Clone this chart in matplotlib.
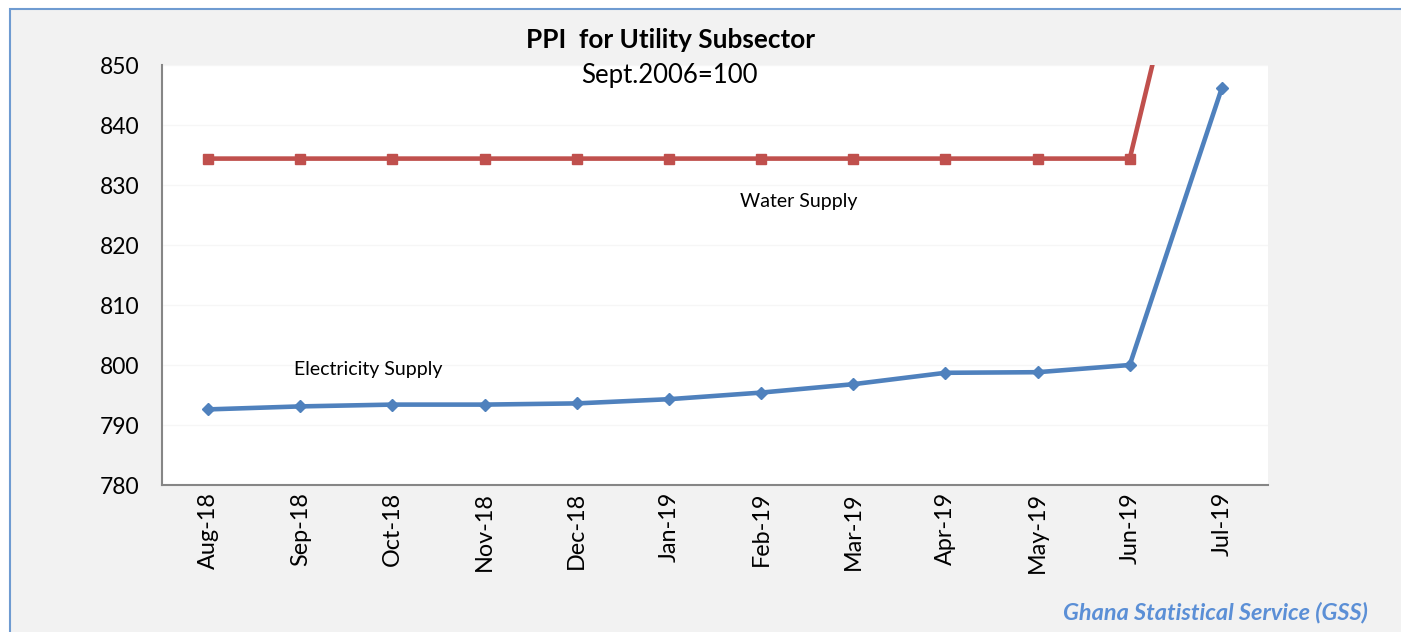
import matplotlib.pyplot as plt
from matplotlib.patches import Rectangle

# 폰트 설정
plt.rcParams["font.family"] = ["Lato", "DejaVu Sans"]

# 데이터
months = ["Aug-18", "Sep-18", "Oct-18", "Nov-18", "Dec-18", "Jan-19",
          "Feb-19", "Mar-19", "Apr-19", "May-19", "Jun-19", "Jul-19"]
electricity = [792.6, 793.1, 793.4, 793.4, 793.6, 794.3,
               795.4, 796.8, 798.7, 798.8, 800.0, 846.2]
water = [834.4, 834.4, 834.4, 834.4, 834.4, 834.4,
         834.4, 834.4, 834.4, 834.4, 834.4, 898.0]
y_ticks = [780, 790, 800, 810, 820, 830, 840, 850]

W, H = 1401, 632
fig = plt.figure(figsize=(W / 100, H / 100), dpi=100)
fig.patch.set_facecolor("white")

# 차트 바깥 회색 영역과 파란 테두리
fig.patches.append(Rectangle((10 / W, -0.01), 1.0, 1 - 9 / H + 0.01,
                             transform=fig.transFigure, facecolor="#f2f2f2",
                             edgecolor="#6f9bd1", linewidth=1.5, zorder=-5))

ax = fig.add_axes([162 / W, (H - 485) / H, (1268 - 162) / W, (485 - 65) / H])
ax.set_facecolor("white")

x = range(len(months))
ax.plot(x, water, color="#c0504d", linewidth=3.3, marker="s", markersize=7,
        solid_capstyle="round")
ax.plot(x, electricity, color="#4f81bd", linewidth=3.3, marker="D", markersize=6,
        solid_capstyle="round")

ax.set_xlim(-0.5, len(months) - 0.5)
ax.set_ylim(780, 850)
ax.set_yticks(y_ticks)
ax.set_xticks(list(x))
ax.set_xticklabels(months, rotation=90, fontsize=16.8)
ax.tick_params(axis="y", length=0, pad=16, labelsize=16.5)
ax.tick_params(axis="x", length=0, pad=5)
ax.grid(axis="y", color="#f6f6f6", linewidth=1)
ax.set_axisbelow(True)

for side in ["top", "right"]:
    ax.spines[side].set_visible(False)
for side in ["left", "bottom"]:
    ax.spines[side].set_color("#868686")
    ax.spines[side].set_linewidth(1.5)

# 시리즈 이름 표시
ax.text(799 / W, 1 - 202 / H, "Water Supply", transform=fig.transFigure,
        ha="center", va="center", fontsize=14)
ax.text(368 / W, 1 - 370 / H, "Electricity Supply", transform=fig.transFigure,
        ha="center", va="center", fontsize=14)

# 제목
fig.text(671 / W, 1 - 40 / H, "PPI  for Utility Subsector", ha="center",
         va="center", fontsize=18.8, fontweight="bold")
fig.text(669 / W, 1 - 75 / H, "Sept.2006=100", ha="center", va="center",
         fontsize=18.5)

# 출처
fig.text(1368 / W, 1 - 613 / H, "Ghana Statistical Service (GSS)", ha="right",
         va="center", fontsize=16.9, fontweight="bold", style="italic",
         color="#5b8fd6")

fig.savefig("out.png", dpi=100)
